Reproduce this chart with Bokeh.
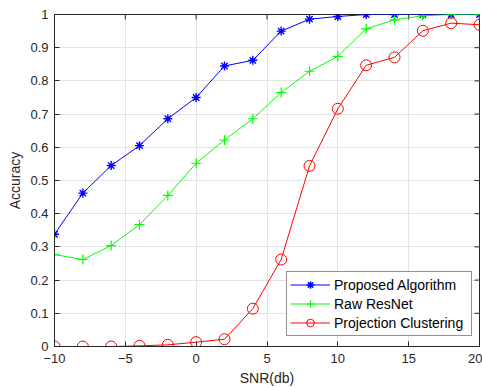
import math
from bokeh.plotting import figure
from bokeh.models import FixedTicker, Legend, LegendItem, Range1d
from bokeh.embed import file_html
from bokeh.resources import INLINE

snr = [-10, -8, -6, -4, -2, 0, 2, 4, 6, 8, 10, 12, 14, 16, 18, 20]
proposed = [0.338, 0.462, 0.545, 0.605, 0.686, 0.750, 0.845, 0.862, 0.950,
            0.986, 0.994, 1.0, 1.0, 1.0, 1.0, 1.0]
raw_resnet = [0.277, 0.262, 0.304, 0.367, 0.455, 0.552, 0.622, 0.686, 0.765,
              0.829, 0.874, 0.957, 0.984, 0.996, 1.0, 1.0]
projection = [0.0, 0.0, 0.0, 0.002, 0.005, 0.013, 0.022, 0.114, 0.262,
              0.544, 0.716, 0.847, 0.871, 0.951, 0.974, 0.969]
x_ticks = [-10, -5, 0, 5, 10, 15, 20]
y_ticks = [0, 0.1, 0.2, 0.3, 0.4, 0.5, 0.6, 0.7, 0.8, 0.9, 1.0]
y_tick_labels = ["0", "0.1", "0.2", "0.3", "0.4", "0.5", "0.6", "0.7", "0.8", "0.9", "1"]
x_min, x_max = -10, 20
y_min, y_max = 0, 1

FONT = "Liberation Sans"
AX = "#262626"

p = figure(width=482, height=388, output_backend="svg", toolbar_location=None,
           x_range=Range1d(x_min, x_max), y_range=Range1d(y_min, y_max),
           min_border_left=54, min_border_right=3, min_border_top=14, min_border_bottom=41,
           x_axis_label="SNR(db)", y_axis_label="Accuracy")
p.background_fill_color = "white"
p.border_fill_color = "white"
p.outline_line_color = AX
p.outline_line_width = 1

for ax in [p.xaxis[0], p.yaxis[0]]:
    ax.major_tick_in = 5
    ax.major_tick_out = 0
    ax.minor_tick_line_color = None
    ax.axis_line_color = AX
    ax.major_tick_line_color = AX
    ax.major_label_text_color = AX
    ax.major_label_text_font = FONT
    ax.major_label_text_font_size = "13px"
    ax.axis_label_text_font = FONT
    ax.axis_label_text_font_size = "14px"
    ax.axis_label_text_font_style = "normal"
    ax.axis_label_text_color = AX

p.xaxis[0].ticker = FixedTicker(ticks=x_ticks)
p.yaxis[0].ticker = FixedTicker(ticks=y_ticks)
p.yaxis[0].major_label_overrides = {t: l for t, l in zip(y_ticks, y_tick_labels)}
p.xaxis[0].major_label_standoff = 7
p.yaxis[0].major_label_standoff = 6
p.xaxis[0].axis_label_standoff = 4
p.yaxis[0].axis_label_standoff = 4

p.grid.grid_line_color = "#e3e3e3"
p.grid.grid_line_width = 1
p.xgrid.ticker = FixedTicker(ticks=x_ticks)
p.ygrid.ticker = FixedTicker(ticks=y_ticks)

# inner tick marks on the top and right box edges (half of each dash is clipped by the frame)
p.scatter(x_ticks, [y_max] * len(x_ticks), marker="dash", size=10, angle=math.pi / 2,
          line_color=AX, line_width=1)
p.scatter([x_max] * len(y_ticks), y_ticks, marker="dash", size=10,
          line_color=AX, line_width=1)

l1 = p.line(snr, proposed, line_color="#0000ff", line_width=1)
m1 = p.scatter(snr, proposed, marker="asterisk", size=9, line_color="#0000ff", line_width=1.4)
l2 = p.line(snr, raw_resnet, line_color="#00ff00", line_width=1)
m2 = p.scatter(snr, raw_resnet, marker="cross", size=10, line_color="#00ff00", line_width=1.2)
l3 = p.line(snr, projection, line_color="#ff0000", line_width=1)
m3 = p.scatter(snr, projection, marker="circle", size=11, line_color="#ff0000",
               fill_color=None, line_width=1)

legend = Legend(items=[
    LegendItem(label="Proposed Algorithm", renderers=[l1, m1]),
    LegendItem(label="Raw ResNet", renderers=[l2, m2]),
    LegendItem(label="Projection Clustering", renderers=[l3, m3]),
], location=(232, 10))
legend.label_text_font = FONT
legend.label_text_font_size = "14px"
legend.label_text_color = "black"
legend.border_line_color = AX
legend.border_line_width = 1
legend.background_fill_color = "white"
legend.background_fill_alpha = 1
legend.glyph_width = 40
legend.glyph_height = 19
legend.label_height = 19
legend.label_width = 134
legend.label_standoff = 4
legend.spacing = 0
legend.padding = 3
legend.margin = 0
p.add_layout(legend, "center")

open("out.html", "w").write(file_html(p, INLINE))
